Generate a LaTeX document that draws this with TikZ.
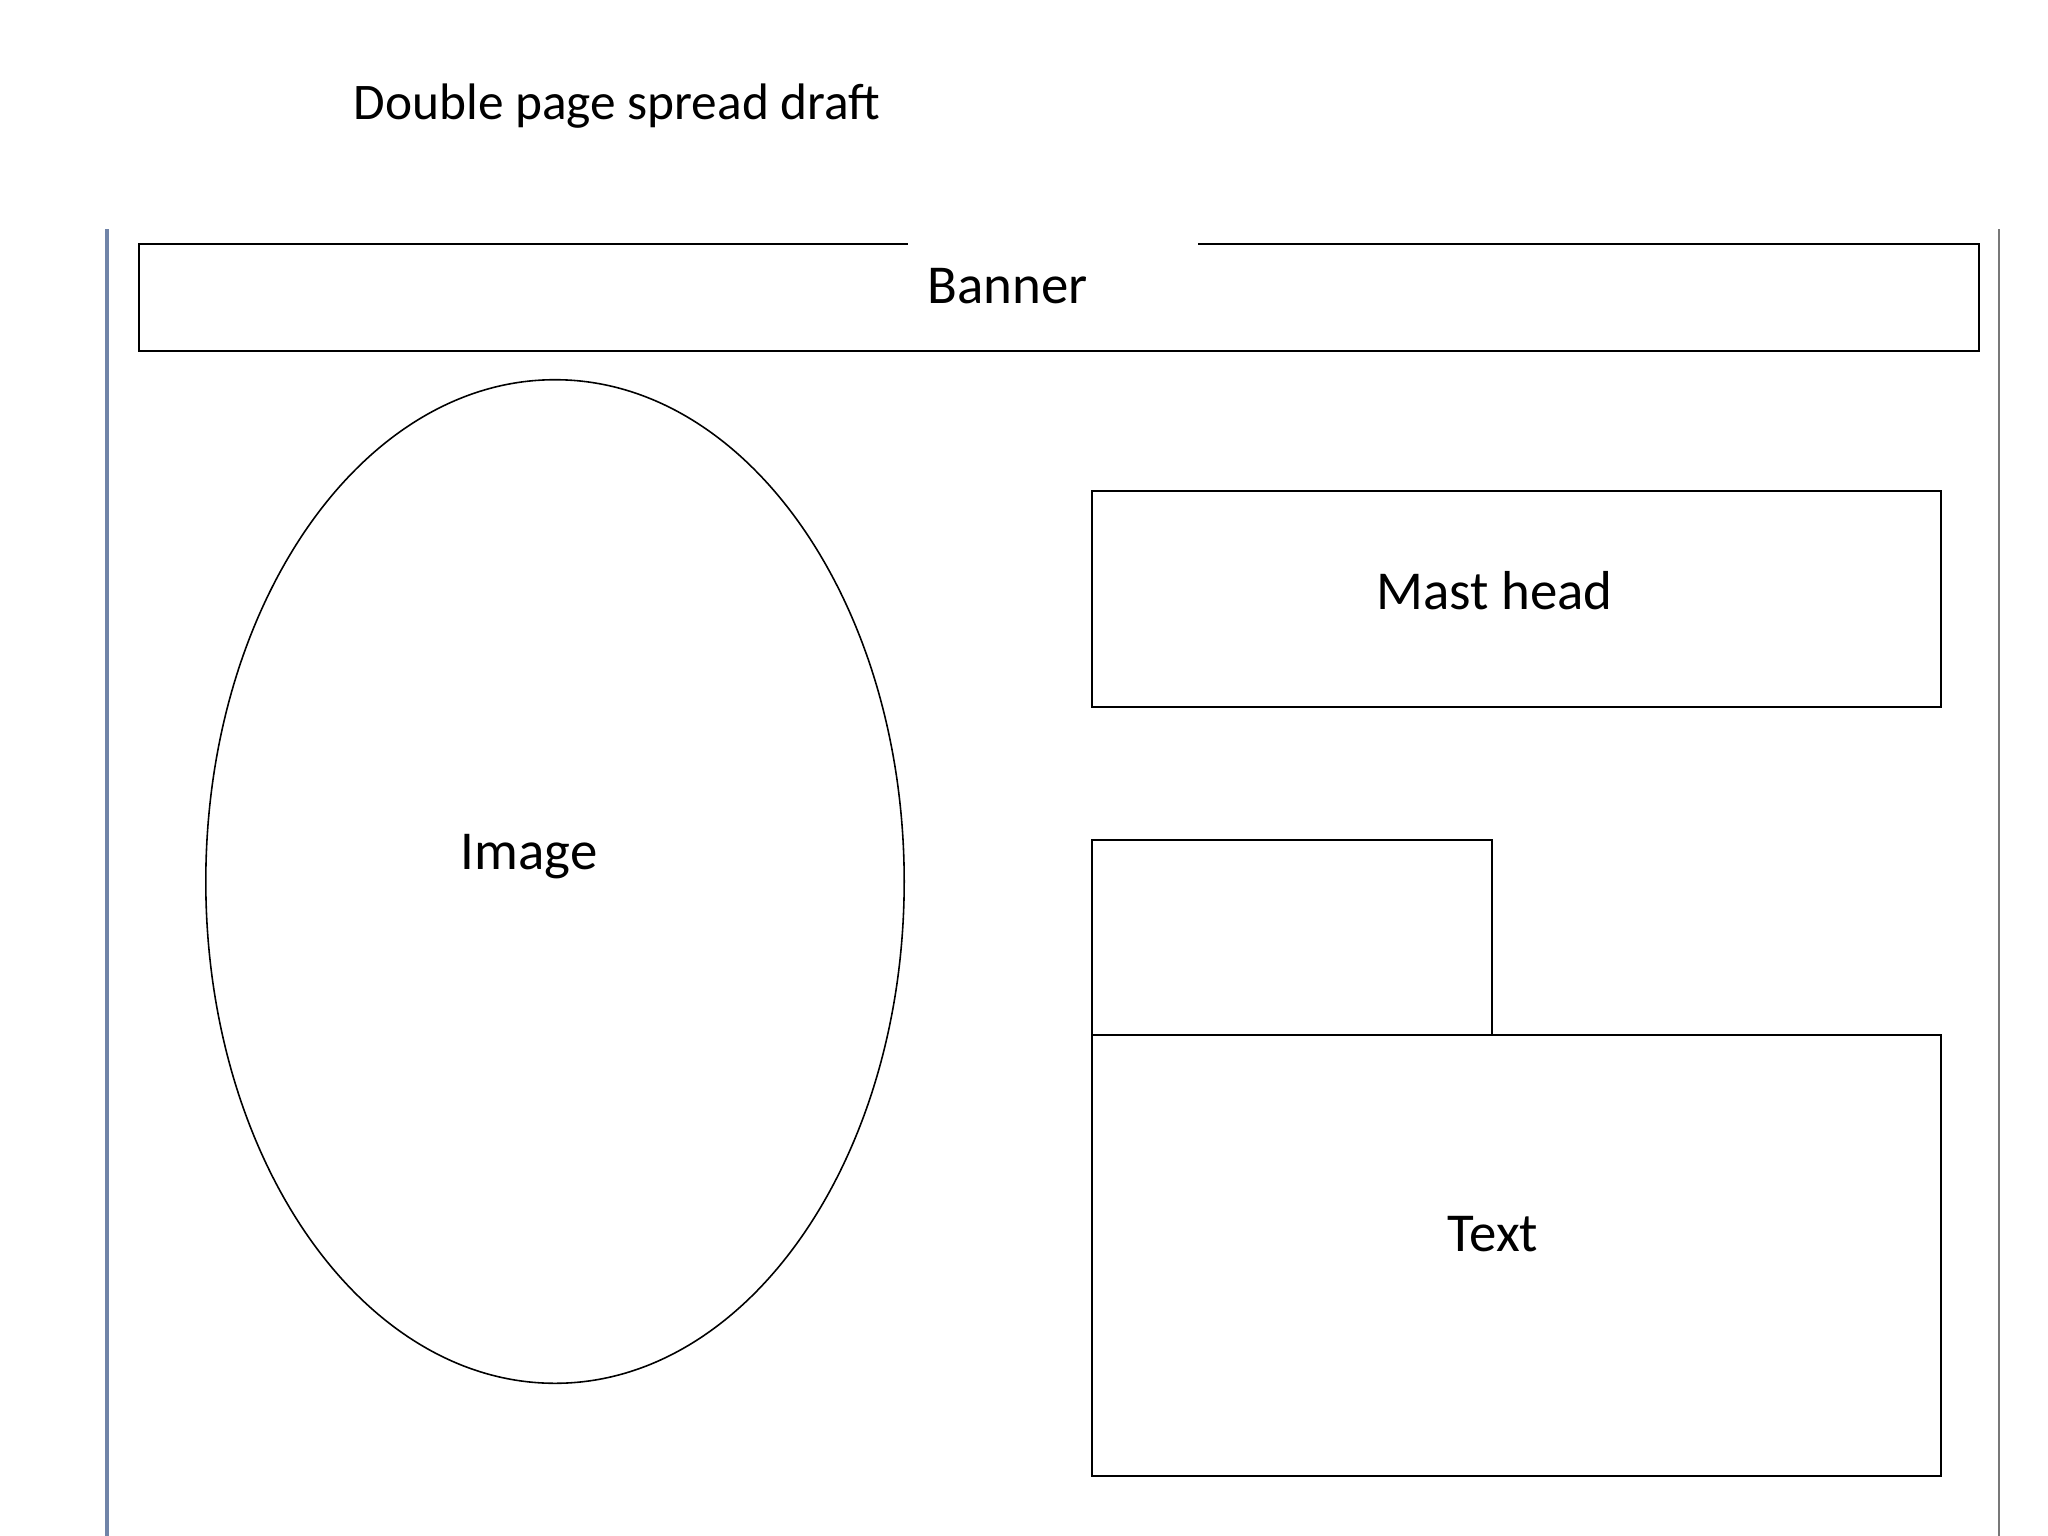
\documentclass[tikz,border=0pt]{standalone}
\usepackage{fontspec}
\setmainfont{Carlito}
\usetikzlibrary{shapes.geometric}
\definecolor{pageblue}{RGB}{112,132,168}
\definecolor{pagegray}{RGB}{120,120,120}
\begin{document}
\begin{tikzpicture}[x=0.01cm, y=-0.01cm]
\tikzstyle{box}=[draw, line width=0.65pt, inner sep=0, minimum width=#1]
\tikzstyle{lbl}=[anchor=base west, inner sep=0, font=\fontsize{15.6}{18}\selectfont]
\useasboundingbox (0,0) rectangle (2048,1536);

\node[lbl, font=\fontsize{14.6}{17}\selectfont] (title) at (353,119) {Double page spread draft};

% page edges
\coordinate (lt) at (107,229);
\coordinate (lb) at (107,1536);
\coordinate (rt) at (1999,229);
\coordinate (rb) at (1999,1536);
\draw[pageblue, line width=1.1pt] (lt) -- (lb);
\draw[pagegray, line width=0.7pt] (rt) -- (rb);

% boxes
\node[box=18.39cm, minimum height=1.07cm] (banner) at (1059,297.5) {};
\fill[white] (908,238) rectangle (1198,250);
\node[box=8.49cm, minimum height=2.16cm] (mast) at (1516.5,599) {};
\node[box=4.0cm, minimum height=1.95cm] (small) at (1292,937.5) {};
\node[box=8.49cm, minimum height=4.41cm] (text) at (1516.5,1255.5) {};
\node[draw, ellipse, line width=0.45pt, inner sep=0, minimum width=6.98cm, minimum height=10.03cm] (image) at (555,881.5) {};

\node[lbl] (bannerlbl) at (927,303) {Banner};
\node[lbl] (mastlbl) at (1376,609) {Mast head};
\node[lbl] (imagelbl) at (460,869) {Image};
\node[lbl] (textlbl) at (1447,1251) {Text};
\end{tikzpicture}
\end{document}
